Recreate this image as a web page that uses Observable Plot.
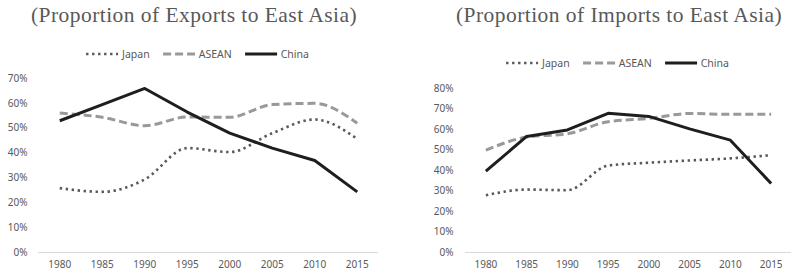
<!DOCTYPE html>
<html>
<head>
<meta charset="utf-8">
<script src="https://cdn.jsdelivr.net/npm/d3@7"></script>
<script src="https://cdn.jsdelivr.net/npm/@observablehq/plot@0.6"></script>
<style>
  html, body { margin: 0; padding: 0; background: #fff; }
  #root { position: relative; width: 791px; height: 273px; overflow: hidden; }
  .panel { position: absolute; top: 0; height: 273px; }
  .panel svg { position: absolute; left: 0; top: 0; }
  .title { position: absolute; font-family: "Liberation Serif", serif; font-size: 21.5px; color: #595959; white-space: nowrap; transform: translateX(-50%); letter-spacing: 0.45px; }
  .legend { position: absolute; transform: translate(-50%, -50%); display: flex; align-items: center; font-family: "Noto Sans", sans-serif; font-size: 10.5px; color: #595959; white-space: nowrap; }
  .legend .item { display: flex; align-items: center; margin-right: 12px; }
  .legend .item:last-child { margin-right: 0; }
  .legend svg { position: static; margin-right: 3px; }
</style>
</head>
<body>
<div id="root"></div>
<script>
const years = [1980, 1985, 1990, 1995, 2000, 2005, 2010, 2015];
const seriesNames = ["Japan", "ASEAN", "China"];

// Proportion of exports to East Asia (%)
const exportJapan = [25.9, 24.4, 29.4, 42.0, 40.4, 48.0, 53.5, 45.7];
const exportASEAN = [56.1, 54.4, 51.0, 54.5, 54.4, 59.5, 60.0, 52.0];
const exportChina = [53.0, 59.5, 66.0, 56.5, 48.0, 42.0, 37.0, 24.4];

// Proportion of imports to East Asia (%)
const importJapan = [27.9, 30.7, 30.4, 42.4, 43.8, 44.9, 45.9, 47.5];
const importASEAN = [49.9, 56.3, 57.9, 63.8, 65.4, 67.8, 67.4, 67.4];
const importChina = [39.7, 56.6, 59.8, 67.9, 66.4, 60.3, 54.8, 33.7];

const exportTicks = [0, 10, 20, 30, 40, 50, 60, 70];
const importTicks = [0, 10, 20, 30, 40, 50, 60, 70, 80];

const styles = {
  Japan: { stroke: "#595959", strokeWidth: 2.6, strokeDasharray: "2.4 3.6", curve: "monotone-x" },
  ASEAN: { stroke: "#999999", strokeWidth: 3, strokeDasharray: "8 4", curve: "monotone-x" },
  China: { stroke: "#1e1e1e", strokeWidth: 3, strokeDasharray: null, curve: "linear" }
};

function toRows(j, a, c) {
  const rows = [];
  const arr = { Japan: j, ASEAN: a, China: c };
  for (const s of seriesNames) years.forEach((y, i) => rows.push({ series: s, year: y, value: arr[s][i] }));
  return rows;
}

function makeChart(rows, ticks, opts) {
  const marks = [Plot.ruleY([0], { stroke: "#d9d9d9", strokeWidth: 1 })];
  for (const s of seriesNames) {
    const st = styles[s];
    const o = {
      x: "year", y: "value", stroke: st.stroke, strokeWidth: st.strokeWidth,
      strokeLinecap: "butt", strokeLinejoin: "round", curve: st.curve
    };
    if (st.strokeDasharray) o.strokeDasharray = st.strokeDasharray;
    marks.push(Plot.line(rows.filter(d => d.series === s), o));
  }
  return Plot.plot({
    width: opts.width,
    height: 273,
    marginLeft: opts.marginLeft,
    marginRight: opts.marginRight,
    marginTop: opts.marginTop,
    marginBottom: 21,
    style: { fontFamily: "Noto Sans, sans-serif", fontSize: "10px", color: "#595959", background: "transparent" },
    x: { type: "point", domain: years, padding: 0.5, round: false, tickSize: 0, tickPadding: 8, tickFormat: d => String(d), label: null },
    y: { domain: [0, ticks[ticks.length - 1]], ticks: ticks, tickSize: 0, tickPadding: opts.tickPadding, tickFormat: d => d + "%", label: null },
    marks
  });
}

function legendEl(cx, cy) {
  const lg = document.createElement("div");
  lg.className = "legend";
  lg.style.left = cx + "px";
  lg.style.top = cy + "px";
  for (const s of seriesNames) {
    const st = styles[s];
    const item = document.createElement("div");
    item.className = "item";
    const ns = "http://www.w3.org/2000/svg";
    const sv = document.createElementNS(ns, "svg");
    sv.setAttribute("width", "34");
    sv.setAttribute("height", "8");
    const ln = document.createElementNS(ns, "line");
    ln.setAttribute("x1", "1"); ln.setAttribute("x2", "33");
    ln.setAttribute("y1", "4"); ln.setAttribute("y2", "4");
    ln.setAttribute("stroke", st.stroke);
    ln.setAttribute("stroke-width", st.strokeWidth);
    if (st.strokeDasharray) ln.setAttribute("stroke-dasharray", st.strokeDasharray);
    sv.appendChild(ln);
    item.appendChild(sv);
    const t = document.createElement("span");
    t.textContent = s;
    item.appendChild(t);
    lg.appendChild(item);
  }
  return lg;
}

function addPanel(left, width, title, titleCx, legendCx, legendCy, chart) {
  const p = document.createElement("div");
  p.className = "panel";
  p.style.left = left + "px";
  p.style.width = width + "px";
  p.appendChild(chart);
  const t = document.createElement("div");
  t.className = "title";
  t.textContent = title;
  t.style.left = (titleCx - left) + "px";
  t.style.top = "3px";
  p.appendChild(t);
  p.appendChild(legendEl(legendCx - left, legendCy));
  document.getElementById("root").appendChild(p);
}

const left = makeChart(toRows(exportJapan, exportASEAN, exportChina), exportTicks,
  { width: 395, marginLeft: 38, marginRight: 17, marginTop: 78, tickPadding: 11 });
const right = makeChart(toRows(importJapan, importASEAN, importChina), importTicks,
  { width: 396, marginLeft: 70, marginRight: 0, marginTop: 88, tickPadding: 12 });

addPanel(0, 395, "(Proportion of Exports to East Asia)", 194, 197, 54, left);
addPanel(395, 396, "(Proportion of Imports to East Asia)", 619, 617, 63, right);
</script>
</body>
</html>
